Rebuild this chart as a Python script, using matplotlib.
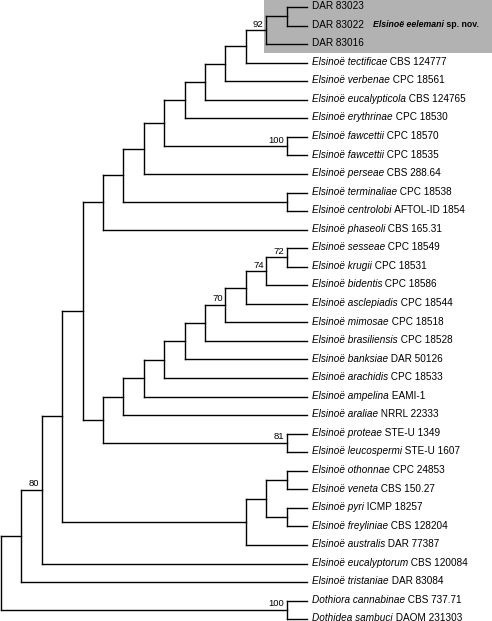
import matplotlib
matplotlib.use("Agg")
import matplotlib.pyplot as plt
from matplotlib.patches import Rectangle

plt.rcParams['font.family'] = ['Liberation Sans', 'DejaVu Sans']

# ---- data ----
italic_names = [
    "", "", "",
    "Elsinoë tectificae", "Elsinoë verbenae", "Elsinoë eucalypticola",
    "Elsinoë erythrinae", "Elsinoë fawcettii", "Elsinoë fawcettii",
    "Elsinoë perseae", "Elsinoë terminaliae", "Elsinoë centrolobi",
    "Elsinoë phaseoli", "Elsinoë sesseae", "Elsinoë krugii",
    "Elsinoë bidentis", "Elsinoë asclepiadis", "Elsinoë mimosae",
    "Elsinoë brasiliensis", "Elsinoë banksiae", "Elsinoë arachidis",
    "Elsinoë ampelina", "Elsinoë araliae", "Elsinoë proteae",
    "Elsinoë leucospermi", "Elsinoë othonnae", "Elsinoë veneta",
    "Elsinoë pyri", "Elsinoë freyliniae", "Elsinoë australis",
    "Elsinoë eucalyptorum", "Elsinoë tristaniae", "Dothiora cannabinae",
    "Dothidea sambuci",
]
strains = [
    "DAR 83023", "DAR 83022", "DAR 83016",
    "CBS 124777", "CPC 18561", "CBS 124765",
    "CPC 18530", "CPC 18570", "CPC 18535",
    "CBS 288.64", "CPC 18538", "AFTOL-ID 1854",
    "CBS 165.31", "CPC 18549", "CPC 18531",
    "CPC 18586", "CPC 18544", "CPC 18518",
    "CPC 18528", "DAR 50126", "CPC 18533",
    "EAMI-1", "NRRL 22333", "STE-U 1349",
    "STE-U 1607", "CPC 24853", "CBS 150.27",
    "ICMP 18257", "CBS 128204", "DAR 77387",
    "CBS 120084", "DAR 83084", "CBS 737.71",
    "DAOM 231303",
]
# tree topology (tips are indices into the lists above), internal labels = support
newick = ("(((((((((((((((T0,T1),T2)92,T3),T4),T5),T6),(T7,T8)100),T9),(T10,T11)),T12),"
          "((((((((((T13,T14)72,T15)74,T16),T17)70,T18),T19),T20),T21),T22),(T23,T24)81)),"
          "(((T25,T26),(T27,T28)),T29)),T30)80,T31),(T32,T33)100);")
highlight_clade_label = ("Elsinoë eelemani", "sp. nov.")
highlight_support = "92"


def parse(s):
    pos = 0

    def read_label():
        nonlocal pos
        start = pos
        while pos < len(s) and s[pos] not in ",();":
            pos += 1
        return s[start:pos]

    def node():
        nonlocal pos
        if s[pos] == '(':
            pos += 1
            kids = [node()]
            while s[pos] == ',':
                pos += 1
                kids.append(node())
            pos += 1  # ')'
            return {'children': kids, 'label': read_label()}
        return {'children': [], 'label': read_label()}

    return node()


root = parse(newick)

# ---- layout params ----
X0, DX = 1.0, 20.4
Y0, DY = 7.0, 18.55
FS = 7.2
FS_SUP = 6.8


def height(n):
    if not n['children']:
        n['h'] = 0
    else:
        n['h'] = 1 + max(height(c) for c in n['children'])
    return n['h']


H = height(root)


def layout(n):
    n['x'] = X0 + (H - n['h']) * DX
    if not n['children']:
        n['tip'] = int(n['label'][1:])
        n['y'] = Y0 + n['tip'] * DY
    else:
        for c in n['children']:
            layout(c)
        n['y'] = (n['children'][0]['y'] + n['children'][-1]['y']) / 2


layout(root)

fig = plt.figure(figsize=(4.92, 6.21), dpi=100)
ax = fig.add_axes([0, 0, 1, 1])
ax.set_xlim(0, 492)
ax.set_ylim(621, 0)
ax.axis('off')


def find(n, lab):
    if n['label'] == lab and n['children']:
        return n
    for c in n['children']:
        r = find(c, lab)
        if r:
            return r
    return None


def tips(n):
    if not n['children']:
        return [n]
    out = []
    for c in n['children']:
        out += tips(c)
    return out


# highlight box for the clade with support 92
hl = find(root, highlight_support)
hl_tips = tips(hl)
box_bottom = hl_tips[-1]['y'] + DY / 2
ax.add_patch(Rectangle((hl['x'] - 2, -1), 492 - (hl['x'] - 2), box_bottom + 1,
                       facecolor='#b2b2b2', edgecolor='none', zorder=0))

LW = 1.0


def draw(n):
    if not n['children']:
        return
    ys = [c['y'] for c in n['children']]
    ax.plot([n['x'], n['x']], [min(ys), max(ys)], color='black', lw=LW,
            solid_capstyle='projecting')
    for c in n['children']:
        ax.plot([n['x'], c['x']], [c['y'], c['y']], color='black', lw=LW,
                solid_capstyle='projecting')
        draw(c)
    if n['label']:
        ax.text(n['x'] - 2.5, n['y'] - 1.5, n['label'], ha='right', va='bottom',
                fontsize=FS_SUP)


draw(root)

# tip labels
for t in tips(root):
    i = t['tip']
    tx = t['x'] + 5
    ty = t['y'] - 0.8
    if italic_names[i]:
        it = ax.text(tx, ty, italic_names[i], style='italic', ha='left',
                     va='center', fontsize=FS)
        ax.annotate(" " + strains[i], xy=(1, 0), xycoords=it, xytext=(0, 0),
                    textcoords='offset points', ha='left', va='bottom', fontsize=FS)
    else:
        ax.text(tx, ty, strains[i], ha='left', va='center', fontsize=FS)

# clade name
mid_tip = hl_tips[1]
cn = ax.text(373, mid_tip['y'] - 0.8, highlight_clade_label[0], style='italic',
             weight='bold', ha='left', va='center', fontsize=FS - 0.9)
ax.annotate(" " + highlight_clade_label[1], xy=(1, 0), xycoords=cn, xytext=(0, 0),
            textcoords='offset points', ha='left', va='bottom', fontsize=FS - 0.9,
            weight='bold')

fig.savefig("out.png", dpi=100)
